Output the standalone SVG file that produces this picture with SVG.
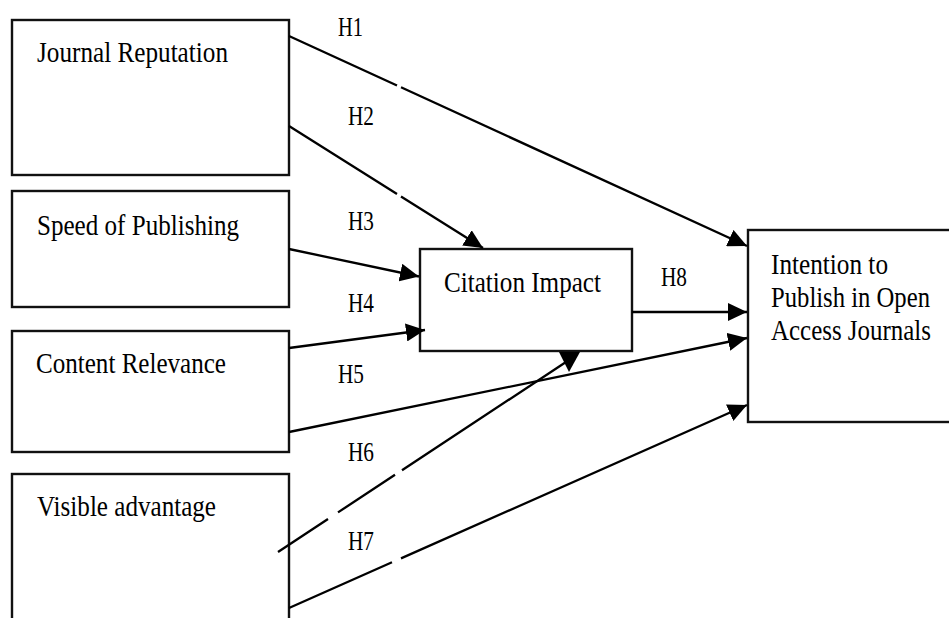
<svg xmlns="http://www.w3.org/2000/svg" width="949" height="618" viewBox="0 0 949 618">
  <style>
    .box { fill: #fff; stroke: #111; stroke-width: 2.4; }
    .t { font-family: "Liberation Serif", "Times New Roman", serif; font-size: 25px; fill: #000; }
    .h { font-family: "Liberation Serif", "Times New Roman", serif; font-size: 23px; fill: #000; }
    .ln { fill: none; stroke: #000; stroke-width: 2.3; marker-end: url(#ah); }
    .ln0 { fill: none; stroke: #000; stroke-width: 2.3; }
  </style>
  <defs>
    <marker id="ah" markerUnits="userSpaceOnUse" markerWidth="20" markerHeight="18" refX="19" refY="9" orient="auto">
      <path d="M0,0 L19,9 L0,18 z" fill="#000"/>
    </marker>
  </defs>
  <rect width="949" height="618" fill="#fff"/>

  <g id="journal-reputation">
    <rect class="box" x="12" y="20" width="277" height="155"/>
    <text class="t" transform="translate(37,62) scale(1,1.2)" textLength="191" lengthAdjust="spacingAndGlyphs">Journal Reputation</text>
  </g>
  <g id="speed-of-publishing">
    <rect class="box" x="12" y="191" width="277" height="116"/>
    <text class="t" transform="translate(37,235) scale(1,1.2)" textLength="202" lengthAdjust="spacingAndGlyphs">Speed of Publishing</text>
  </g>
  <g id="content-relevance">
    <rect class="box" x="12" y="331" width="277" height="121"/>
    <text class="t" transform="translate(36,373) scale(1,1.2)" textLength="190" lengthAdjust="spacingAndGlyphs">Content Relevance</text>
  </g>
  <g id="visible-advantage">
    <rect class="box" x="12" y="474" width="277" height="160"/>
    <text class="t" transform="translate(37,516) scale(1,1.2)" textLength="179" lengthAdjust="spacingAndGlyphs">Visible advantage</text>
  </g>
  <g id="citation-impact">
    <rect class="box" x="420" y="249" width="212" height="102"/>
    <text class="t" transform="translate(444,292) scale(1,1.2)" textLength="157" lengthAdjust="spacingAndGlyphs">Citation Impact</text>
  </g>
  <g id="intention">
    <rect class="box" x="748" y="230" width="215" height="192"/>
    <text class="t" transform="translate(771,274) scale(1,1.2)" textLength="117" lengthAdjust="spacingAndGlyphs">Intention to</text>
    <text class="t" transform="translate(771,307) scale(1,1.2)" textLength="159" lengthAdjust="spacingAndGlyphs">Publish in Open</text>
    <text class="t" transform="translate(771,340) scale(1,1.2)" textLength="160" lengthAdjust="spacingAndGlyphs">Access Journals</text>
  </g>

  <g id="connectors">
    <path class="ln" d="M289,36 L397,85.5 M401,87.3 L747,246"/>
    <path class="ln" d="M289,126 L397,194 M401,196.5 L483,248"/>
    <path class="ln" d="M289,249 L419,276.5"/>
    <path class="ln" d="M289,348 L425,330"/>
    <path class="ln" d="M289,432 L747,338"/>
    <path class="ln0" d="M278,552 L328,519 M338,512.4 L395,474.8 M402,470.2 L566,362"/>
    <polygon points="559,352 580,352 569,372" fill="#000"/>
    <path class="ln" d="M289,608 L392,562.3 M401,558.4 L747,405"/>
    <path class="ln" d="M632,312 L747,312"/>
  </g>

  <g id="labels">
    <text class="h" transform="translate(338,36) scale(1,1.2)" textLength="25" lengthAdjust="spacingAndGlyphs">H1</text>
    <text class="h" transform="translate(348,125) scale(1,1.2)" textLength="26" lengthAdjust="spacingAndGlyphs">H2</text>
    <text class="h" transform="translate(348,230) scale(1,1.2)" textLength="26" lengthAdjust="spacingAndGlyphs">H3</text>
    <text class="h" transform="translate(348,312) scale(1,1.2)" textLength="26" lengthAdjust="spacingAndGlyphs">H4</text>
    <text class="h" transform="translate(338,383) scale(1,1.2)" textLength="26" lengthAdjust="spacingAndGlyphs">H5</text>
    <text class="h" transform="translate(348,461) scale(1,1.2)" textLength="26" lengthAdjust="spacingAndGlyphs">H6</text>
    <text class="h" transform="translate(348,550) scale(1,1.2)" textLength="26" lengthAdjust="spacingAndGlyphs">H7</text>
    <text class="h" transform="translate(661,286) scale(1,1.2)" textLength="26" lengthAdjust="spacingAndGlyphs">H8</text>
  </g>
</svg>
